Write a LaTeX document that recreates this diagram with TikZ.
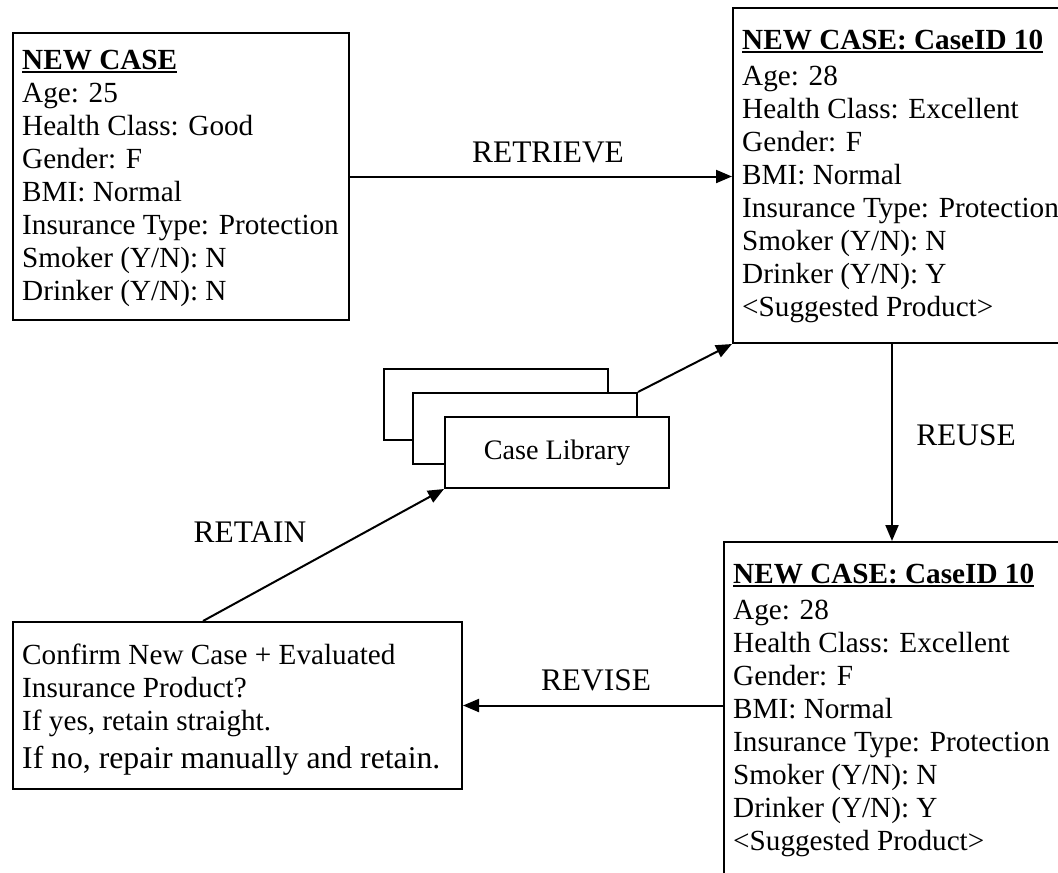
\documentclass[tikz,border=0pt]{standalone}
\usepackage{fontspec}
\setmainfont{Liberation Serif}
\usetikzlibrary{arrows.meta}
\newcommand\myul[1]{\setbox0\hbox{#1}\rlap{\rule[-4pt]{\wd0}{2pt}}\box0}
\newcommand\lineset[1]{\vtop{\baselineskip=33pt\lineskiplimit=-100pt\lineskip=0pt #1}}
\begin{document}
\begin{tikzpicture}[x=1pt,y=-1pt,
  frame/.style={draw, line width=2pt, fill=white, inner sep=0pt, anchor=north west},
  txt/.style={anchor=base west, inner sep=0pt, font=\fontsize{29.2pt}{33pt}\selectfont},
  lbl/.style={anchor=base, inner sep=0pt, font=\fontsize{31.4pt}{36pt}\selectfont},
  libtxt/.style={font=\fontsize{28.2pt}{33pt}\selectfont},
  conn/.style={line width=2pt},
  arr/.style={conn, -{Triangle[length=16pt,width=13pt]}}]
\clip (0,0) rectangle (1058,873);
\fill[white] (0,0) rectangle (1058,873);

% boxes
\node[frame, minimum width=336pt, minimum height=287pt] (b1) at (12,32) {};
\node[frame, minimum width=350pt, minimum height=335pt] (b2) at (732,7) {};
\node[frame, minimum width=360pt, minimum height=340pt] (b4) at (723,541) {};
\node[frame, minimum width=449pt, minimum height=167pt] (ret) at (12,621) {};

% case library stack
\node[frame, minimum width=224pt, minimum height=71pt] (lib1) at (383,368) {};
\node[frame, minimum width=224pt, minimum height=71pt] (lib2) at (412,392) {};
\node[frame, minimum width=224pt, minimum height=71pt, libtxt] (lib3) at (444,416) {Case Library};

% texts
\node[txt] (t1) at (22,69) {\lineset{%
  \hbox{\myul{\textbf{NEW CASE}}}
  \hbox{Age: 25}
  \hbox{Health Class: Good}
  \hbox{Gender: F}
  \hbox{BMI: Normal}
  \hbox{Insurance Type: Protection}
  \hbox{Smoker (Y/N): N}
  \hbox{Drinker (Y/N): N}}};

\node[txt] (t2) at (742,49) {\lineset{%
  \hbox{\myul{\textbf{NEW CASE: CaseID 10}}}
  \kern3pt
  \hbox{Age: 28}
  \hbox{Health Class: Excellent}
  \hbox{Gender: F}
  \hbox{BMI: Normal}
  \hbox{Insurance Type: Protection}
  \hbox{Smoker (Y/N): N}
  \hbox{Drinker (Y/N): Y}
  \hbox{<Suggested Product>}}};

\node[txt] (t4) at (733,583) {\lineset{%
  \hbox{\myul{\textbf{NEW CASE: CaseID 10}}}
  \kern3pt
  \hbox{Age: 28}
  \hbox{Health Class: Excellent}
  \hbox{Gender: F}
  \hbox{BMI: Normal}
  \hbox{Insurance Type: Protection}
  \hbox{Smoker (Y/N): N}
  \hbox{Drinker (Y/N): Y}
  \hbox{<Suggested Product>}}};

\node[txt] (tr) at (22,664) {\lineset{%
  \hbox{Confirm New Case + Evaluated}
  \hbox{Insurance Product?}
  \hbox{If yes, retain straight.}
  \kern5pt
  \hbox{\fontsize{31.7pt}{36pt}\selectfont If no, repair manually and retain.}}};

% connectors
\coordinate (ru) at (892,0);
\draw[arr] (b1.east) -- (b1.east -| b2.west);
\draw[arr] (lib2.north east) -- (b2.south west);
\draw[arr] (b2.south -| ru) -- (b4.north -| ru);
\draw[arr] (ret.east -| b4.west) -- (ret.east);
\draw[arr] ([xshift=191pt]ret.north west) -- (lib3.south west);

% labels
\node[lbl] (lretrieve) at (548,162) {RETRIEVE};
\node[lbl] (lreuse) at (966,445) {REUSE};
\node[lbl] (lrevise) at (596,690) {REVISE};
\node[lbl] (lretain) at (250,542) {RETAIN};
\end{tikzpicture}
\end{document}
